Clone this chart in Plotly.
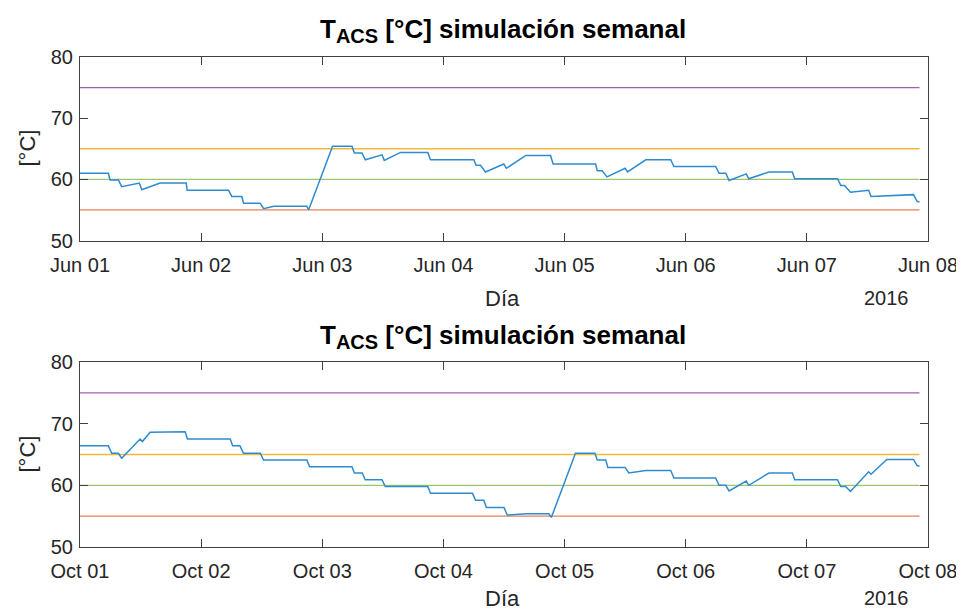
import pandas as pd
import plotly.graph_objects as go

# ---------------- data ----------------
top_start = "2016-06-01"
bottom_start = "2016-10-01"

top_tick_labels = ["Jun 01", "Jun 02", "Jun 03", "Jun 04", "Jun 05", "Jun 06", "Jun 07", "Jun 08"]
bottom_tick_labels = ["Oct 01", "Oct 02", "Oct 03", "Oct 04", "Oct 05", "Oct 06", "Oct 07", "Oct 08"]

# time in days since start, temperature in °C (June week)
top_days = [0.0, 0.234, 0.248, 0.317, 0.344, 0.49, 0.51, 0.661, 0.876, 0.885,
            1.226, 1.253, 1.336, 1.35, 1.488, 1.515, 1.6, 1.873, 1.887, 2.085,
            2.245, 2.265, 2.328, 2.355, 2.493, 2.512, 2.645, 2.871, 2.893, 3.251,
            3.27, 3.306, 3.347, 3.498, 3.52, 3.68, 3.884, 3.906, 4.256, 4.27,
            4.31, 4.35, 4.5, 4.52, 4.67, 4.876, 4.903, 5.247, 5.275, 5.33,
            5.358, 5.5, 5.52, 5.687, 5.88, 5.9, 6.253, 6.28, 6.31, 6.36,
            6.51, 6.53, 6.88, 6.91, 6.93]
top_temp = [61.0, 61.0, 59.9, 59.9, 58.8, 59.4, 58.3, 59.4, 59.4, 58.2,
            58.2, 57.2, 57.2, 56.1, 56.1, 55.2, 55.6, 55.6, 55.0, 65.4,
            65.4, 64.3, 64.3, 63.2, 64.0, 63.1, 64.4, 64.4, 63.2, 63.2,
            62.3, 62.3, 61.2, 62.5, 61.8, 63.9, 63.9, 62.5, 62.5, 61.4,
            61.4, 60.4, 61.8, 61.2, 63.2, 63.2, 62.1, 62.1, 61.0, 61.0,
            59.8, 60.9, 60.1, 61.2, 61.2, 60.1, 60.1, 59.0, 59.0, 57.9,
            58.2, 57.2, 57.5, 56.4, 56.3]

# time in days since start, temperature in °C (October week)
bottom_days = [0.0, 0.234, 0.262, 0.317, 0.344, 0.496, 0.515, 0.579, 0.868, 0.887,
               1.24, 1.26, 1.32, 1.35, 1.488, 1.515, 1.873, 1.895, 2.245, 2.265,
               2.33, 2.355, 2.493, 2.52, 2.871, 2.893, 3.24, 3.265, 3.333, 3.355,
               3.5, 3.527, 3.69, 3.87, 3.891, 4.09, 4.25, 4.27, 4.34, 4.357,
               4.5, 4.53, 4.67, 4.876, 4.903, 5.247, 5.275, 5.33, 5.358, 5.5,
               5.52, 5.687, 5.88, 5.9, 6.253, 6.28, 6.32, 6.36, 6.51, 6.53,
               6.66, 6.88, 6.91, 6.93]
bottom_temp = [66.4, 66.4, 65.2, 65.2, 64.4, 67.5, 67.1, 68.6, 68.7, 67.5,
               67.5, 66.4, 66.4, 65.2, 65.2, 64.1, 64.1, 63.0, 63.0, 62.0,
               62.0, 60.9, 60.9, 59.8, 59.8, 58.7, 58.7, 57.6, 57.6, 56.4,
               56.4, 55.2, 55.4, 55.4, 54.8, 65.2, 65.2, 64.1, 64.1, 62.9,
               62.9, 62.0, 62.4, 62.4, 61.2, 61.2, 60.0, 60.0, 59.1, 60.7,
               60.0, 62.0, 62.0, 60.9, 60.9, 59.8, 59.8, 59.0, 62.2, 61.8,
               64.2, 64.2, 63.2, 63.1]

# reference limits (°C)
limit_values = [55, 60, 65, 75]
limit_colors = ["#E8805A", "#9CC66C", "#F2B83A", "#9B63A8"]

y_ticks = [50, 60, 70, 80]
title_text = "T<sub><span style='font-size:20px'>ACS</span></sub> [°C] simulación semanal"
x_label = "Día"
y_label = "[°C]"
year_label = "2016"
line_color = "#2E8BD0"

# ---------------- figure ----------------
def to_dates(start, days):
    return pd.Timestamp(start) + pd.to_timedelta(days, unit="D")

fig = go.Figure()

panels = [
    (top_start, top_days, top_temp, top_tick_labels, "x", "y"),
    (bottom_start, bottom_days, bottom_temp, bottom_tick_labels, "x2", "y2"),
]

for start, days, temp, labels, xa, ya in panels:
    t = to_dates(start, days)
    for val, col in zip(limit_values, limit_colors):
        fig.add_trace(go.Scatter(x=[t[0], t[-1]], y=[val, val], mode="lines",
                                 line=dict(color=col, width=1.4),
                                 xaxis=xa, yaxis=ya, showlegend=False, hoverinfo="skip"))
    fig.add_trace(go.Scatter(x=t, y=temp, mode="lines",
                             line=dict(color=line_color, width=1.5),
                             xaxis=xa, yaxis=ya, showlegend=False))

font_family = "Liberation Sans, Arial, sans-serif"
txt_col = "#262626"
ax_col = "#404040"

def xaxis_cfg(start, labels, domain_anchor):
    tv = list(pd.date_range(start, periods=len(labels), freq="D"))
    return dict(type="date", range=[tv[0], tv[-1]], tickvals=tv, ticktext=labels,
                showgrid=False, zeroline=False, showline=True, linecolor=ax_col, linewidth=1,
                mirror="ticks", ticks="inside", ticklen=8, tickcolor=ax_col,
                tickfont=dict(size=20, color=txt_col, family=font_family),
                ticklabelstandoff=6, automargin=False,
                anchor=domain_anchor, domain=[0, 1])

def yaxis_cfg(domain, anchor):
    return dict(range=[50, 80], tickvals=y_ticks, domain=domain, anchor=anchor,
                showgrid=False, zeroline=False, showline=True, linecolor=ax_col, linewidth=1,
                mirror="ticks", ticks="inside", ticklen=8, tickcolor=ax_col,
                ticklabelstandoff=2, automargin=False,
                tickfont=dict(size=20, color=txt_col, family=font_family))

# the page body adds an 8px offset; the figure is sized/margined to compensate
H = 490.0
top_dom = [(547 - 240.5) / H, 1.0]
bot_dom = [0.0, (547 - 362) / H]

fig.update_layout(
    width=956, height=604,
    margin=dict(l=72, r=36, t=49, b=65, autoexpand=False),
    paper_bgcolor="white", plot_bgcolor="white",
    xaxis=xaxis_cfg(top_start, top_tick_labels, "y"),
    xaxis2=xaxis_cfg(bottom_start, bottom_tick_labels, "y2"),
    yaxis=yaxis_cfg(top_dom, "x"),
    yaxis2=yaxis_cfg(bot_dom, "x2"),
    font=dict(family=font_family, color=txt_col),
)

def py(ypix):
    return (547 - ypix) / H

def px(xpix):
    return (xpix - 80) / 848.0

ann = []
for i, off in enumerate([0, 306]):
    lab_y = 298 if i == 0 else 598
    ann.append(dict(text="<b>" + title_text + "</b>", x=px(503), y=py(30 + off), xref="paper", yref="paper",
                    showarrow=False, xanchor="center", yanchor="middle",
                    font=dict(size=26, color="black", family=font_family)))
    ann.append(dict(text=x_label, x=px(502), y=py(lab_y), xref="paper", yref="paper",
                    showarrow=False, xanchor="center", yanchor="middle",
                    font=dict(size=22, color=txt_col, family=font_family)))
    ann.append(dict(text=year_label, x=px(886), y=py(lab_y), xref="paper", yref="paper",
                    showarrow=False, xanchor="center", yanchor="middle",
                    font=dict(size=20, color=txt_col, family=font_family)))
    ann.append(dict(text=y_label, x=px(27), y=py(148.5 + off), xref="paper", yref="paper",
                    showarrow=False, xanchor="center", yanchor="middle", textangle=-90,
                    font=dict(size=22, color=txt_col, family=font_family)))
fig.update_layout(annotations=ann)

fig.write_html("out.html")
